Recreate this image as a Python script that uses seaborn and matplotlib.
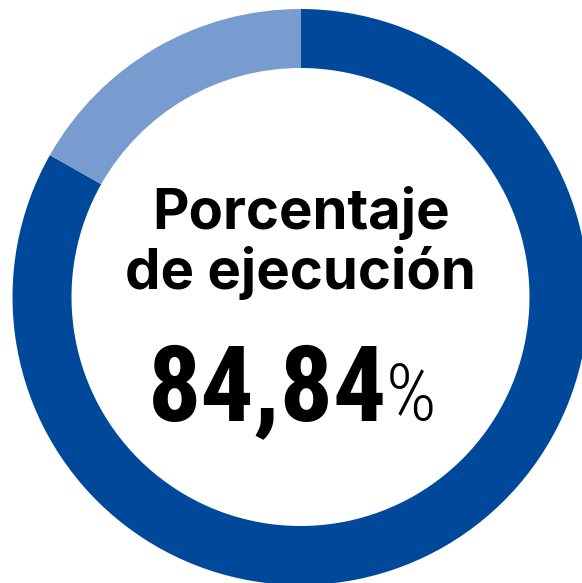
import matplotlib
matplotlib.use('Agg')
import matplotlib.pyplot as plt
import seaborn as sns

# --- Data ---
labels = ['Ejecutado', 'Pendiente']
ring_values = [83.2, 16.8]          # shares as drawn in the ring
colors = ['#00489A', '#789BD0']
title_lines = ['Porcentaje', 'de ejecución']
value_text = '84,84'

sns.set_theme(style='white')

H = 583  # figure height in px, y measured from the top
narrow = ['Roboto Condensed', 'DejaVu Sans Condensed', 'Liberation Sans Narrow', 'Roboto', 'DejaVu Sans']

# --- Figure ---
fig = plt.figure(figsize=(5.82, 5.83), dpi=100)
ax = fig.add_axes([0, 0, 1, 1])

ax.pie(ring_values, colors=colors, startangle=90, counterclock=False,
       radius=288, center=(300.5, H - 297),
       wedgeprops=dict(width=59, linewidth=0))

ax.set_xlim(0, 582)
ax.set_ylim(0, H)
ax.set_aspect('equal')
ax.axis('off')

ax.text(301, H - 229, title_lines[0], ha='center', va='baseline',
        fontsize=40.5, fontweight='bold', family=['Inter', 'DejaVu Sans'], color='black')
ax.text(300, H - 289, title_lines[1], ha='center', va='baseline',
        fontsize=40.5, fontweight='bold', family=['Inter', 'DejaVu Sans'], color='black')

ax.text(387, H - 420, value_text, ha='right', va='baseline',
        fontsize=76, fontweight='bold', fontstretch='condensed', family=narrow, color='black')
ax.text(386, H - 420, '%', ha='left', va='baseline',
        fontsize=57, fontweight='light', fontstretch='condensed', family=narrow, color='black')

fig.savefig('out.png', dpi=100, facecolor='white')
